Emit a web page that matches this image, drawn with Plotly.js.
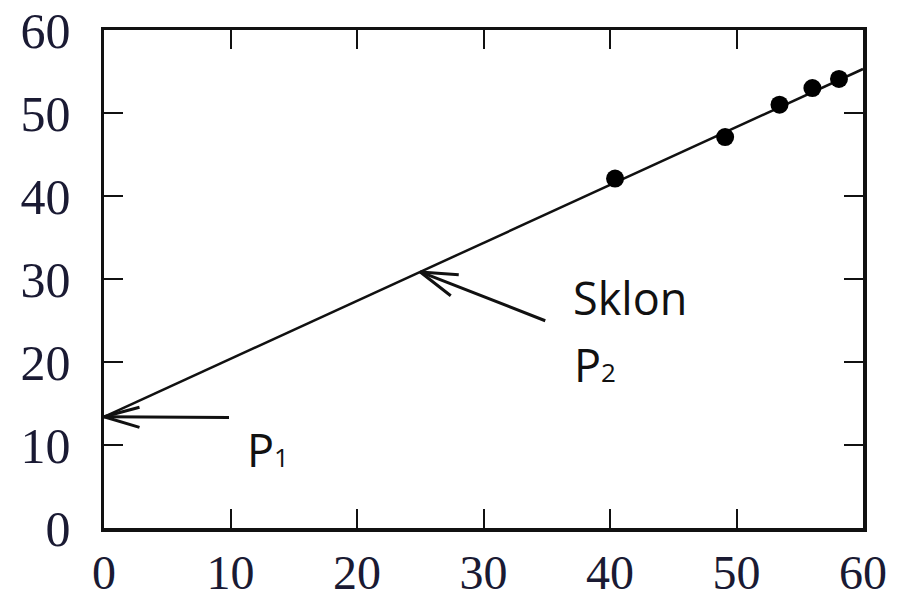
<!DOCTYPE html>
<html>
<head>
<meta charset="utf-8">
<script src="https://cdn.plot.ly/plotly-3.0.1.min.js"></script>
<style>html,body{margin:0;padding:0;background:#fff;}#chart{width:905px;height:596px;}</style>
</head>
<body>
<div id="chart"></div>
<script>
// Measured points
const pointsX = [40.4, 49.1, 53.4, 56.0, 58.1];
const pointsY = [42.1, 47.1, 51.0, 53.0, 54.1];
// Fitted line
const lineX = [0, 60];
const lineY = [13.4, 55.3];
// Tick values / labels
const tickVals = [0, 10, 20, 30, 40, 50, 60];
const tickText = ['0', '10', '20', '30', '40', '50', '60'];
// Annotation anchors (data coords)
const p1Tip = [0, 13.4], p1Tail = [10, 13.3];
const p2Tip = [25, 30.85], p2Tail = [35.0, 24.9];
const labels = [
  {text: 'Sklon', x: 41.6, y: 27.8},
  {text: 'P<span style="font-size:26px">2</span>', x: 38.8, y: 19.7},
  {text: 'P<span style="font-size:26px">1</span>', x: 13.0, y: 9.4}
];

const ink = '#111';
const tickFont = {family: 'Liberation Serif, Times New Roman, serif', size: 50, color: '#1a1a33'};

const traces = [
  {x: lineX, y: lineY, mode: 'lines', line: {color: ink, width: 2.5}, hoverinfo: 'skip'},
  {x: pointsX, y: pointsY, mode: 'markers', marker: {color: '#000', size: 18}}
];

function arrow(tip, tail, arms) {
  const out = [{x: tip[0], y: tip[1], ax: tail[0], ay: tail[1], axref: 'x', ayref: 'y',
    xref: 'x', yref: 'y', text: '', showarrow: true, arrowhead: 0, arrowwidth: 3, arrowcolor: ink, standoff: 0, startstandoff: 0}];
  arms.forEach(a => out.push({x: tip[0], y: tip[1], ax: a[0], ay: a[1], xref: 'x', yref: 'y',
    text: '', showarrow: true, arrowhead: 0, arrowwidth: 3, arrowcolor: ink, standoff: 0}));
  return out;
}

const annotations = [].concat(
  arrow(p1Tip, p1Tail, [[37, -10], [37, 11]]),
  arrow(p2Tip, p2Tail, [[40, 3], [32, 25]]),
  labels.map(l => ({x: l.x, y: l.y, xref: 'x', yref: 'y', text: l.text, showarrow: false,
    font: {family: 'Open Sans, Noto Sans, sans-serif', size: 45, color: ink}}))
);

const axisCommon = {
  range: [0, 60], tickvals: tickVals, ticktext: tickText, ticks: 'inside', ticklen: 19, tickwidth: 2,
  tickcolor: ink, showline: true, linewidth: 3.5, linecolor: ink, mirror: 'ticks', showgrid: false,
  zeroline: false, tickfont: tickFont, fixedrange: true
};

const layout = {
  width: 905, height: 596,
  margin: {l: 104, r: 42, t: 30, b: 68},
  paper_bgcolor: '#fff', plot_bgcolor: '#fff',
  showlegend: false,
  xaxis: Object.assign({}, axisCommon, {ticklabelstandoff: 0, tickfont: Object.assign({}, tickFont, {size: 48})}),
  yaxis: Object.assign({}, axisCommon, {ticklabelstandoff: 20}),
  annotations: annotations
};

Plotly.newPlot('chart', traces, layout, {displayModeBar: false, staticPlot: true});
</script>
</body>
</html>
